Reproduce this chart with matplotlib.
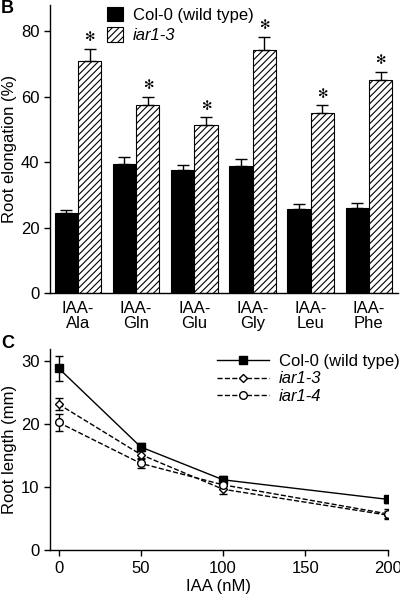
import matplotlib
matplotlib.use("Agg")
import matplotlib.pyplot as plt
from matplotlib.lines import Line2D
import numpy as np

plt.rcParams['font.family'] = ['Liberation Sans', 'DejaVu Sans']
plt.rcParams['hatch.linewidth'] = 0.8
FS = 12

# panel B data
amino = ['IAA-\nAla', 'IAA-\nGln', 'IAA-\nGlu', 'IAA-\nGly', 'IAA-\nLeu', 'IAA-\nPhe']
col0_b = [24.4, 39.4, 37.6, 38.9, 25.8, 26.1]
col0_b_err = [0.9, 2.0, 1.6, 2.0, 1.3, 1.3]
iar13_b = [70.9, 57.4, 51.2, 74.3, 54.9, 64.9]
iar13_b_err = [3.7, 2.6, 2.4, 4.0, 2.4, 2.6]

# panel C data
iaa_nm = [0, 50, 100, 200]
col0_c = [28.9, 16.4, 11.2, 8.1]
col0_c_err = [2.0, 0.7, 0.6, 0.6]
iar13_c = [23.2, 15.2, 9.7, 5.6]
iar13_c_err = [1.0, 0.7, 0.7, 0.6]
iar14_c = [20.3, 13.8, 10.4, 5.8]
iar14_c_err = [1.3, 0.8, 0.6, 0.7]

fig = plt.figure(figsize=(4.0, 5.97), dpi=100)

#---- panel B
axb = fig.add_axes([0.125, 0.509, 0.87, 0.483])
x = np.arange(len(amino))
w = 0.4
axb.bar(x - w/2, col0_b, w, color='black', edgecolor='black', lw=0.8,
        label='Col-0 (wild type)')
axb.bar(x + w/2, iar13_b, w, color='white', edgecolor='black', lw=0.8,
        hatch='/////', label='iar1-3')
axb.errorbar(x - w/2, col0_b, yerr=[np.zeros(6), col0_b_err], fmt='none',
             ecolor='black', elinewidth=1, capsize=4, capthick=1)
axb.errorbar(x + w/2, iar13_b, yerr=[np.zeros(6), iar13_b_err], fmt='none',
             ecolor='black', elinewidth=1, capsize=4, capthick=1)
for xi, v, e in zip(x + w/2, iar13_b, iar13_b_err):
    axb.annotate('\u273b', (xi, v + e), xytext=(0, 8), textcoords='offset points',
                 ha='center', va='center', fontsize=9, family='DejaVu Sans')
axb.set_xlim(-0.48, 5.5)
axb.set_ylim(0, 88)
axb.set_yticks([0, 20, 40, 60, 80])
axb.set_xticks(x)
axb.set_xticklabels(amino, fontsize=FS, linespacing=1.0)
axb.tick_params(axis='x', length=0, pad=6)
axb.tick_params(axis='y', labelsize=FS, direction='out', length=4, width=1)
axb.set_ylabel('Root elongation (%)', fontsize=FS, labelpad=3)
for s in ['top', 'right']:
    axb.spines[s].set_visible(False)
for s in ['left', 'bottom']:
    axb.spines[s].set_linewidth(1)
leg = axb.legend(loc='upper left', bbox_to_anchor=(0.145, 1.015), frameon=False,
                 fontsize=FS, handlelength=0.95, handleheight=0.95,
                 handletextpad=0.6, labelspacing=0.25, borderaxespad=0)
leg.get_texts()[1].set_style('italic')
fig.text(0.003, 0.985, 'B', fontsize=13, fontweight='bold', va='center')

#---- panel C
axc = fig.add_axes([0.125, 0.078, 0.844, 0.337])
axc.errorbar(iaa_nm, col0_c, yerr=col0_c_err, color='black', lw=1,
             marker='s', ms=5.5, mfc='black', mec='black',
             capsize=3, elinewidth=1)
axc.errorbar(iaa_nm, iar13_c, yerr=iar13_c_err, color='black', lw=1, ls='--',
             marker='D', ms=4.5, mfc='white', mec='black',
             capsize=3, elinewidth=1)
axc.errorbar(iaa_nm, iar14_c, yerr=iar14_c_err, color='black', lw=1, ls='--',
             marker='o', ms=5.5, mfc='white', mec='black',
             capsize=3, elinewidth=1)
axc.set_xlim(-5.2, 200)
axc.set_ylim(0, 31.9)
axc.set_xticks([0, 50, 100, 150, 200])
axc.set_yticks([0, 10, 20, 30])
axc.tick_params(labelsize=FS, direction='out', length=4, width=1)
axc.set_xlabel('IAA (nM)', fontsize=FS, labelpad=2)
axc.set_ylabel('Root length (mm)', fontsize=FS, labelpad=3)
for s in ['top', 'right']:
    axc.spines[s].set_visible(False)
for s in ['left', 'bottom']:
    axc.spines[s].set_linewidth(1)
handles = [
    Line2D([], [], color='black', lw=1, marker='s', ms=5.5, mfc='black'),
    Line2D([], [], color='black', lw=1, ls='--', marker='D', ms=4.5, mfc='white'),
    Line2D([], [], color='black', lw=1, ls='--', marker='o', ms=5.5, mfc='white'),
]
legc = axc.legend(handles, ['Col-0 (wild type)', 'iar1-3', 'iar1-4'],
                  loc='upper left', bbox_to_anchor=(0.475, 1.01),
                  frameon=False, fontsize=FS, handlelength=3.1,
                  handletextpad=0.6, labelspacing=0.15, borderaxespad=0)
for t in legc.get_texts()[1:]:
    t.set_style('italic')
fig.text(0.003, 0.425, 'C', fontsize=13, fontweight='bold', va='center')

fig.savefig('out.png', dpi=100)
